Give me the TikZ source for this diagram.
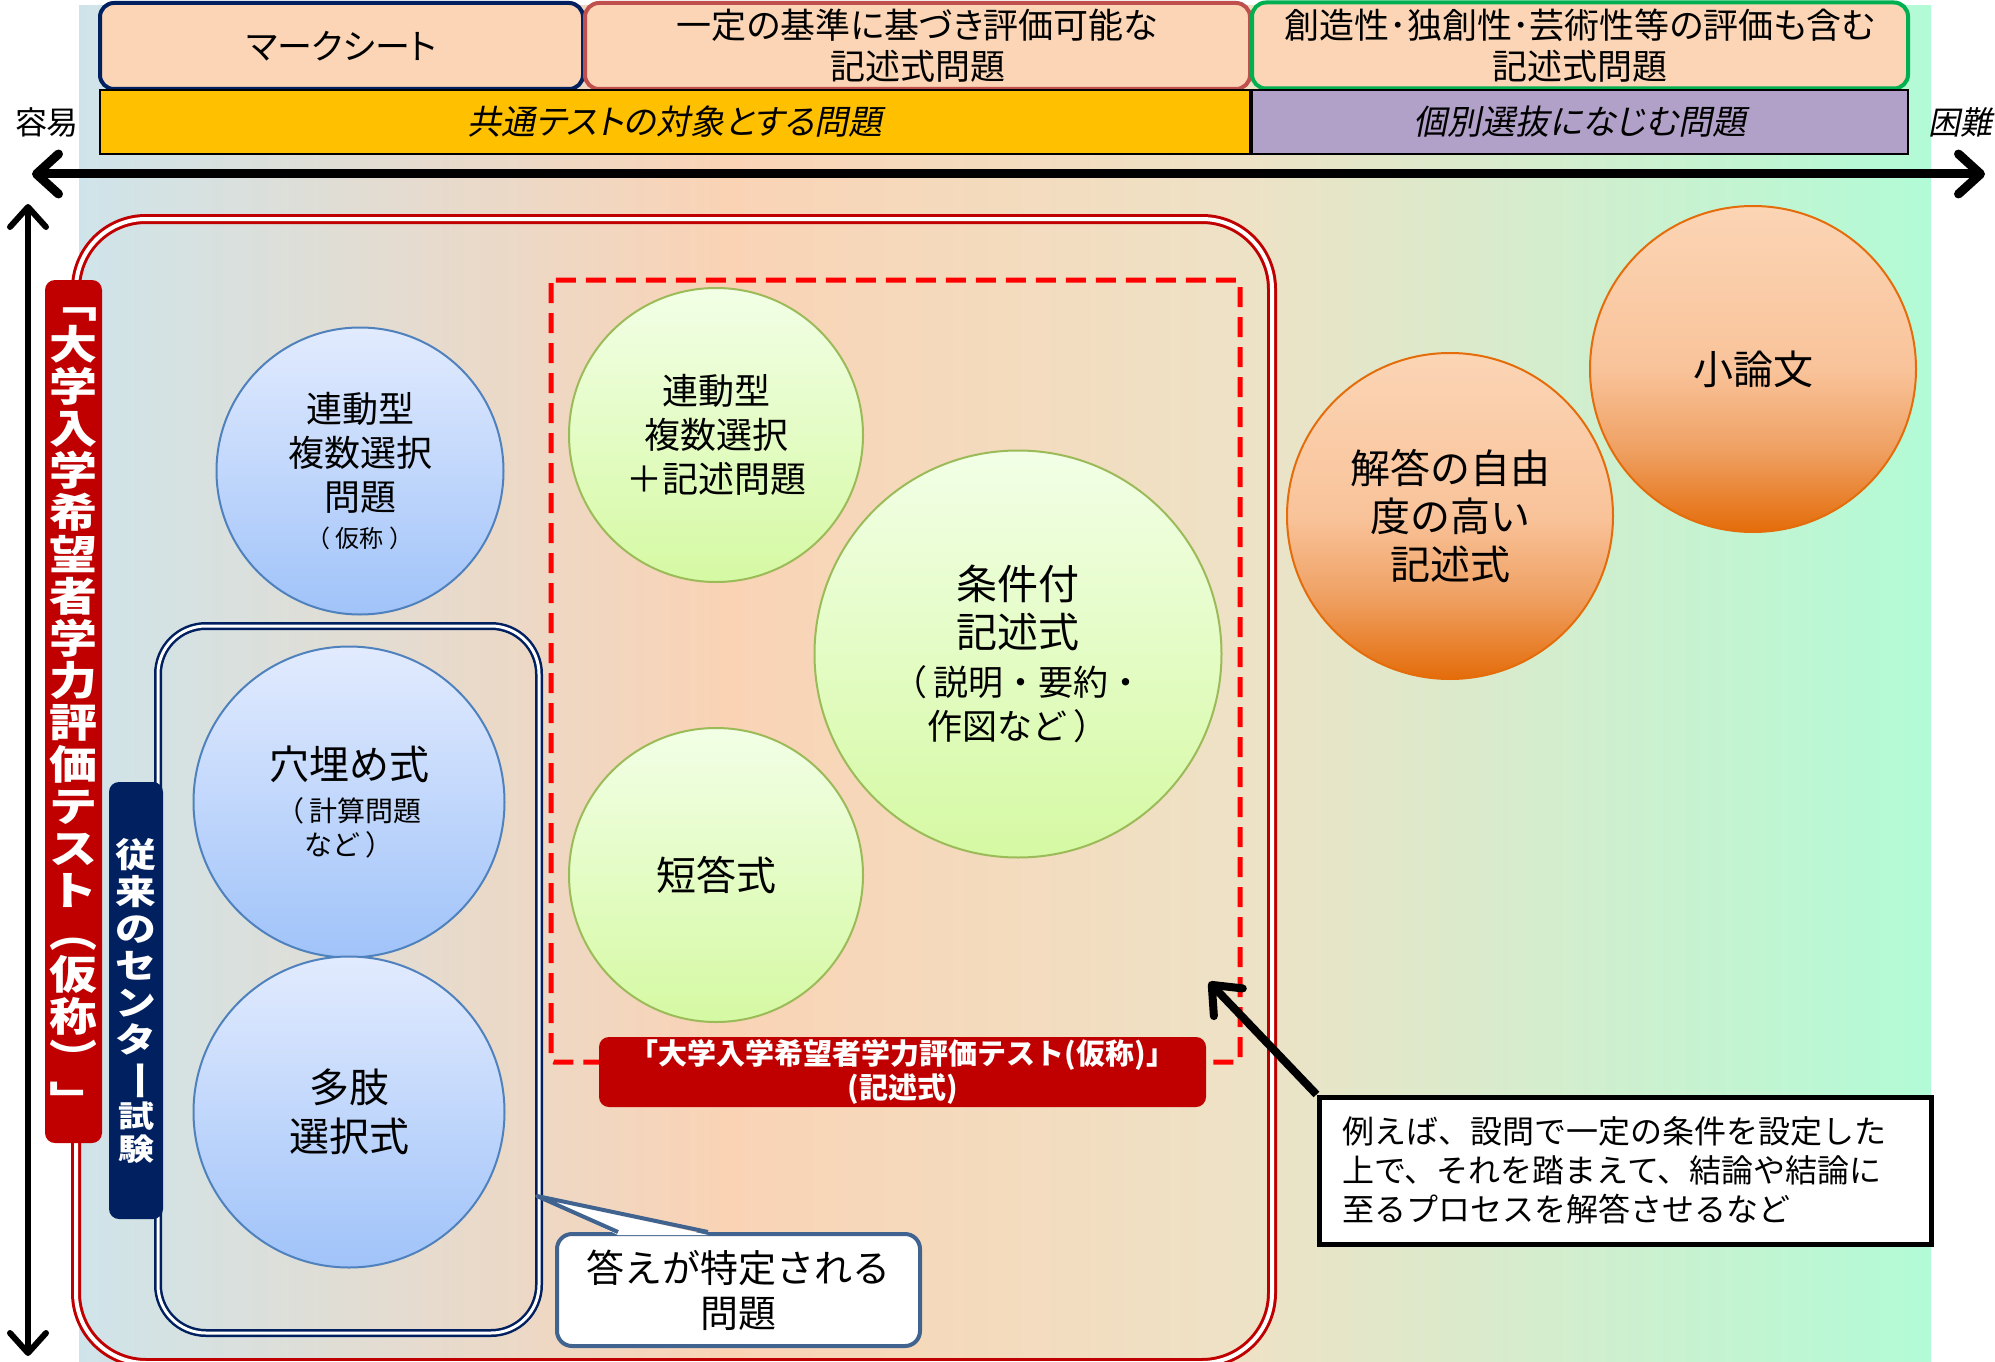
\documentclass[tikz,border=0pt]{standalone}
\usepackage{fontspec}
\usepackage{graphicx}
\setmainfont{Noto Sans CJK JP}
\newfontfamily\propfont{Noto Sans CJK JP}[RawFeature=+palt]
\newfontfamily\slantfont{Noto Sans CJK JP}[FakeSlant=0.2,RawFeature=+palt]
\newfontfamily\widefont{Noto Sans CJK JP}[FakeStretch=1.2]
\usepackage{tikz}
\usetikzlibrary{arrows.meta}
\usetikzlibrary{calc}
\usetikzlibrary{positioning}

\definecolor{bgblue}{HTML}{CFE4EA}
\definecolor{bgpeach}{HTML}{FAD3B5}
\definecolor{bgmid}{HTML}{EEE2C6}
\definecolor{bggreen}{HTML}{B2FBD6}
\definecolor{navy}{HTML}{002060}
\definecolor{darkred}{HTML}{C00000}
\definecolor{boxred}{HTML}{C0504D}
\definecolor{boxgreen}{HTML}{00B050}
\definecolor{toppeach}{HTML}{FBD5B5}
\definecolor{yellowbar}{HTML}{FFC000}
\definecolor{purplebar}{HTML}{B1A0C7}
\definecolor{blueline}{HTML}{4F81BD}
\definecolor{blueT}{HTML}{E2EBFE}
\definecolor{blueB}{HTML}{A0C3F9}
\definecolor{greenline}{HTML}{9BBB59}
\definecolor{greenT}{HTML}{F2FFE6}
\definecolor{greenB}{HTML}{D5F9A3}
\definecolor{orangeline}{HTML}{E46C0A}
\definecolor{orangeT}{HTML}{FBD5B5}
\definecolor{orangeM}{HTML}{F9C39A}
\definecolor{orangeL}{HTML}{EFA062}
\definecolor{answerline}{HTML}{41638F}

\pgfdeclarehorizontalshading{bgshade}{100bp}{color(0bp)=(bgblue); color(25bp)=(bgblue); color(42.5bp)=(bgpeach); color(56.5bp)=(bgmid); color(75bp)=(bggreen); color(100bp)=(bggreen)}
\pgfdeclareverticalshading{blueshade}{100bp}{color(0bp)=(blueB); color(25bp)=(blueB); color(75bp)=(blueT); color(100bp)=(blueT)}
\pgfdeclareverticalshading{greenshade}{100bp}{color(0bp)=(greenB); color(25bp)=(greenB); color(75bp)=(greenT); color(100bp)=(greenT)}
\pgfdeclareverticalshading{orangeshade}{100bp}{color(0bp)=(orangeline); color(25bp)=(orangeline); color(37.5bp)=(orangeL); color(50bp)=(orangeM); color(75bp)=(orangeT); color(100bp)=(orangeT)}

\tikzstyle{topbox}=[draw, line width=4pt, rounded corners=14pt, fill=toppeach, minimum height=86pt, inner sep=0pt, align=center, font=\propfont\fontsize{35}{41}\selectfont]
\tikzstyle{bar}=[draw=black, line width=1.5pt, minimum height=64pt, inner sep=0pt, font=\slantfont\fontsize{34}{40}\selectfont]
\tikzstyle{axisline}=[line width=9pt, >={Straight Barb[round,length=22pt,width=40pt]}, <->]
\tikzstyle{vaxisline}=[line width=6pt, >={Straight Barb[round,length=20pt,width=36pt]}, <->]
\tikzstyle{testframe}=[draw=darkred, line width=3pt, double=white, double distance=4pt, rounded corners=70pt]
\tikzstyle{centerframe}=[draw=navy, line width=2.5pt, double=white, double distance=3pt, rounded corners=48pt]
\tikzstyle{dashframe}=[draw=red, line width=5pt, dash pattern=on 20pt off 10pt, rounded corners=3pt]
\tikzstyle{vlabel}=[rounded corners=10pt, inner sep=0pt, align=center, text=white]
\tikzstyle{ball}=[circle, line width=2pt, inner sep=0pt, align=center, shade]
\tikzstyle{blueq}=[ball, draw=blueline, shading=blueshade]
\tikzstyle{greenq}=[ball, draw=greenline, shading=greenshade]
\tikzstyle{orangeq}=[ball, draw=orangeline, shading=orangeshade]
\tikzstyle{notebox}=[draw=black, line width=5pt, fill=white, inner xsep=23pt, inner ysep=0pt, align=left]
\tikzstyle{answerbox}=[draw=answerline, line width=4pt, fill=white, rounded corners=15pt, inner sep=0pt, align=center]

\begin{document}
\begin{tikzpicture}[x=1pt, y=-1pt]
\useasboundingbox (0,0) rectangle (1995,1362);
\shade[shading=bgshade] (79,6) rectangle (1931,1362);

% top row
\node[topbox, draw=navy, minimum width=483pt] (mark) at (341.5,46) {マークシート};
\node[topbox, draw=boxred, minimum width=665pt] (kijutsu) at (917.5,46) {一定の基準に基づき評価可能な\\記述式問題};
\node[topbox, draw=boxgreen, minimum width=656pt] (sozo) at (1580,45.5) {創造性･独創性･芸術性等の評価も含む\\記述式問題};
\node[bar, fill=yellowbar, minimum width=1150pt] (common) at (675,122) {共通テストの対象とする問題};
\node[bar, fill=purplebar, minimum width=656pt] (indiv) at (1580,122) {個別選抜になじむ問題};
\node[font=\fontsize{32}{36}\selectfont, inner sep=0pt] (easy) at (47,122) {容易};
\node[font=\slantfont\fontsize{32}{36}\selectfont, inner sep=0pt, anchor=west] (hard) at (1928,122) {困難};

% axes
\coordinate (left) at (32,174);
\coordinate (right) at (1985,174);
\draw[axisline] (left) -- (right);
\coordinate (top) at (28,204);
\coordinate (bottom) at (28,1356);
\draw[vaxisline] (top) -- (bottom);

% frames
\draw[testframe] (76,219) rectangle (1272,1363);
\draw[centerframe] (158,626) rectangle (539,1333);
\draw[dashframe] (551,280) rectangle (1240,1062);

\node[vlabel, fill=darkred, minimum width=57pt, minimum height=863pt, font=\widefont\bfseries\fontsize{40}{42}\selectfont] (testlbl) at (73.5,711.5) {﹁\\大\\学\\入\\学\\希\\望\\者\\学\\力\\評\\価\\テ\\ス\\ト\\︵\\仮\\称\\︶\\﹂};
\node[vlabel, fill=navy, minimum width=54pt, minimum height=437pt, font=\widefont\bfseries\fontsize{34}{37}\selectfont] (centerlbl) at (136,1000.5) {従\\来\\の\\セ\\ン\\タ\\\rotatebox[origin=c]{-90}{ー}\\[-1pt]{\fontsize{30}{31}\selectfont 試}\\[-4pt]{\fontsize{30}{31}\selectfont 験}};

% circles
\node[blueq, minimum size=287pt, font=\fontsize{36}{44}\selectfont] (q1) at (360,471) {連動型\\複数選択\\問題\\[-7pt]{\fontsize{24}{28}\selectfont （\hspace{6pt}仮称\hspace{6pt}）}};
\node[blueq, minimum size=311pt, font=\fontsize{40}{44}\selectfont] (q2) at (349,802) {穴埋め式\\[-2pt]{\fontsize{28}{32}\selectfont （\hspace{6pt}計算問題}\\[-10pt]{\fontsize{28}{32}\selectfont など\hspace{6pt}）}};
\node[blueq, minimum size=311pt, font=\fontsize{40}{49}\selectfont] (q3) at (349,1112) {多肢\\選択式};
\node[greenq, minimum size=294pt, font=\fontsize{36}{44}\selectfont] (q4) at (716,435) {連動型\\複数選択\\＋記述問題};
\node[greenq, minimum size=294pt, font=\fontsize{40}{48}\selectfont] (q5) at (716,875) {短答式};
\node[greenq, minimum size=407pt, font=\fontsize{41}{48}\selectfont] (q6) at (1018,654) {条件付\\記述式\\{\fontsize{35}{40}\selectfont （\hspace{6pt}説明・要約・}\\[-4pt]{\fontsize{35}{40}\selectfont 作図など\hspace{6pt}）}};
\node[orangeq, minimum size=326pt, font=\fontsize{40}{48}\selectfont] (q7) at (1450,516) {解答の自由\\度の高い\\記述式};
\node[orangeq, minimum size=326pt, font=\fontsize{40}{48}\selectfont] (q8) at (1753,369) {小論文};

\node[vlabel, fill=darkred, minimum width=607pt, minimum height=70pt, font=\bfseries\fontsize{29}{34}\selectfont] (kijutsulbl) at (902.5,1072) {「大学入学希望者学力評価テスト(仮称)」\\(記述式)};

% callout
\node[answerbox, minimum width=363pt, minimum height=112pt, font=\fontsize{38}{45}\selectfont] (answer) at (738.5,1290) {答えが特定される\\問題};
\coordinate (answertip) at (537,1196);
\fill[white] ($(answer.north west)+(63,3)$) -- (answertip) -- ($(answer.north west)+(153,3)$) -- cycle;
\draw[draw=answerline, line width=4pt, line join=round] ($(answer.north west)+(63,0)$) -- (answertip) -- ($(answer.north west)+(153,0)$);

% note
\node[notebox, minimum width=612pt, minimum height=147pt, text width=566pt, font=\fontsize{32}{39}\selectfont] (note) at (1625,1170.5) {例えば、設問で一定の条件を設定した\\上で、それを踏まえて、結論や結論に\\至るプロセスを解答させるなど};
\coordinate (notetip) at (1209,982);
\draw[line width=8pt, -{Straight Barb[round,length=24pt,width=40pt]}] (note.north west) -- (notetip);
\end{tikzpicture}
\end{document}
